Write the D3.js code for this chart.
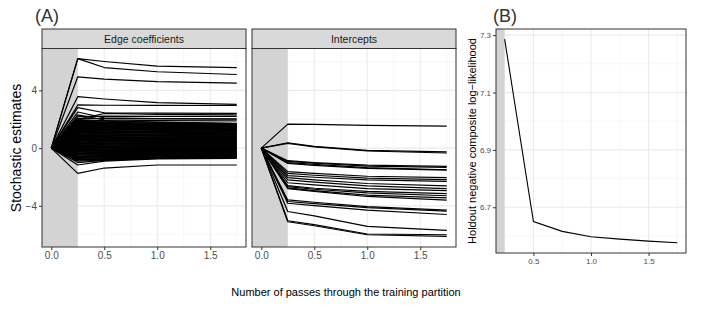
<!DOCTYPE html>
<html>
<head>
<meta charset="utf-8">
<script src="https://cdn.jsdelivr.net/npm/d3@7"></script>
<style>
  body { margin: 0; background: #fff; }
  text { font-family: "Liberation Sans", Arial, sans-serif; }
</style>
</head>
<body>
<div id="chart"></div>
<script>
// Passes at which the stochastic estimates were recorded (panel A)
var passesA = [0, 0.25, 0.5, 1.0, 1.75];
var startValue = 0;

// Edge coefficient traces: values at passes 0.25, 0.5, 1.0, 1.75
var edgeCoefs = [
  [6.2, 6.0, 5.68, 5.57], [6.2, 5.58, 5.29, 5.1], [4.94, 4.78, 4.6, 4.5],
  [3.56, 3.4, 3.15, 3.03], [2.99, 2.97, 2.96, 2.95], [2.8, 2.45, 2.42, 2.41],
  [2.0, 2.4, 2.33, 2.3], [2.18, 2.22, 2.2, 2.2], [2.07, 2.05, 2.02, 2.0],
  [2.5, 2.1, 2.05, 2.02], [2.3, 1.95, 1.9, 1.88], [1.9, 1.5, 1.35, 1.3],
  [1.2, 1.6, 1.55, 1.5], [0.3, 0.6, 0.65, 0.7], [0.9, 0.5, 0.4, 0.38],
  [1.98, 1.9, 1.8, 1.72], [1.93, 1.86, 1.78, 1.7], [1.87, 1.8, 1.72, 1.66],
  [1.82, 1.76, 1.69, 1.63], [1.76, 1.7, 1.62, 1.57], [1.7, 1.66, 1.6, 1.55],
  [1.65, 1.58, 1.52, 1.48], [1.6, 1.55, 1.5, 1.45], [1.54, 1.49, 1.43, 1.39],
  [1.49, 1.44, 1.39, 1.36], [1.43, 1.38, 1.33, 1.3], [1.38, 1.34, 1.3, 1.27],
  [1.32, 1.28, 1.22, 1.19], [1.27, 1.22, 1.18, 1.15], [1.21, 1.17, 1.12, 1.1],
  [1.16, 1.12, 1.08, 1.06], [1.1, 1.07, 1.03, 1.0], [1.05, 1.01, 0.97, 0.95],
  [0.99, 0.96, 0.92, 0.9], [0.94, 0.9, 0.87, 0.85], [0.88, 0.85, 0.82, 0.8],
  [0.83, 0.8, 0.77, 0.75], [0.77, 0.74, 0.71, 0.7], [0.72, 0.7, 0.67, 0.65],
  [0.66, 0.64, 0.61, 0.6], [0.61, 0.58, 0.56, 0.55], [0.55, 0.53, 0.51, 0.5],
  [0.5, 0.48, 0.46, 0.45], [0.44, 0.42, 0.41, 0.4], [0.39, 0.37, 0.36, 0.35],
  [0.33, 0.32, 0.31, 0.3], [0.28, 0.27, 0.26, 0.25], [0.22, 0.21, 0.2, 0.2],
  [0.17, 0.16, 0.15, 0.15], [0.11, 0.1, 0.1, 0.1], [0.06, 0.05, 0.05, 0.05],
  [0.0, 0.0, 0.0, 0.0], [-0.05, -0.05, -0.04, -0.04], [-0.11, -0.1, -0.09, -0.09],
  [-0.16, -0.15, -0.14, -0.13], [-0.22, -0.2, -0.19, -0.18], [-0.27, -0.25, -0.23, -0.22],
  [-0.33, -0.3, -0.28, -0.27], [-0.38, -0.35, -0.33, -0.31], [-0.44, -0.4, -0.37, -0.35],
  [-0.49, -0.45, -0.42, -0.4], [-0.55, -0.5, -0.46, -0.44], [-0.6, -0.55, -0.51, -0.48],
  [-0.66, -0.6, -0.55, -0.52], [-0.71, -0.66, -0.6, -0.56], [-0.77, -0.72, -0.64, -0.59],
  [-0.84, -0.78, -0.68, -0.62], [-0.9, -0.83, -0.72, -0.65],
  [1.95, 1.75, 1.68, 1.65], [1.85, 1.7, 1.64, 1.6], [1.72, 1.62, 1.55, 1.5],
  [1.62, 1.52, 1.46, 1.42], [1.52, 1.41, 1.36, 1.33], [1.41, 1.31, 1.26, 1.23],
  [1.3, 1.2, 1.15, 1.12], [1.19, 1.09, 1.05, 1.02], [1.08, 0.99, 0.95, 0.92],
  [0.97, 0.88, 0.84, 0.82], [0.86, 0.78, 0.74, 0.72], [0.75, 0.67, 0.63, 0.62],
  [0.64, 0.56, 0.53, 0.52], [0.53, 0.46, 0.43, 0.42], [0.42, 0.35, 0.33, 0.32],
  [0.31, 0.24, 0.22, 0.22], [0.2, 0.13, 0.12, 0.12], [0.09, 0.03, 0.02, 0.02],
  [-0.02, -0.08, -0.07, -0.06], [-0.13, -0.18, -0.16, -0.15], [-0.24, -0.28, -0.26, -0.24],
  [-0.35, -0.38, -0.35, -0.33], [-0.46, -0.48, -0.44, -0.42], [-0.57, -0.58, -0.53, -0.5],
  [-0.68, -0.68, -0.62, -0.57], [-0.8, -0.76, -0.67, -0.61],
  [-1.75, -1.38, -1.17, -1.17], [-1.17, -0.9, -0.75, -0.71], [-1.0, -0.85, -0.7, -0.65]
];

// Intercept traces: values at passes 0.25, 0.5, 1.0, 1.75
var intercepts = [
  [1.66, 1.64, 1.58, 1.52], [0.37, 0.12, -0.16, -0.26], [0.33, 0.08, -0.2, -0.34],
  [-0.87, -1.0, -1.18, -1.27], [-0.92, -1.05, -1.25, -1.33], [-1.0, -1.12, -1.35, -1.5],
  [-1.06, -1.2, -1.4, -1.52], [-1.63, -1.75, -1.95, -2.05], [-1.75, -1.88, -2.08, -2.18],
  [-1.9, -2.02, -2.2, -2.3], [-2.05, -2.2, -2.45, -2.62], [-2.2, -2.35, -2.62, -2.8],
  [-2.4, -2.55, -2.8, -2.95], [-2.6, -2.78, -3.0, -3.15], [-2.67, -2.85, -3.1, -3.3],
  [-2.75, -2.95, -3.25, -3.45], [-2.8, -3.0, -3.35, -3.6], [-3.59, -3.75, -4.05, -4.3],
  [-3.7, -3.85, -4.12, -4.36], [-3.82, -3.98, -4.3, -4.6], [-4.39, -4.7, -5.42, -5.7],
  [-5.03, -5.3, -5.95, -6.0], [-5.1, -5.38, -6.0, -6.12]
];

// Panel B: holdout loss per pass
var passesB = [0.25, 0.5, 0.75, 1.0, 1.25, 1.5, 1.75];
var holdoutNll = [7.286, 6.65, 6.616, 6.597, 6.589, 6.582, 6.576];

// Facets, ticks, burn-in boundary
var facetLabels = ["Edge coefficients", "Intercepts"];
var burnInEnd = 0.25;
var xTicksA = [0, 0.5, 1.0, 1.5];
var xMinorA = [0.25, 0.75, 1.25, 1.75];
var yTicksA = [-4, 0, 4];
var yMinorA = [-6, -2, 2, 6];
var xTicksB = [0.5, 1.0, 1.5];
var xMinorB = [0.25, 0.75, 1.25, 1.75];
var yTicksB = [6.7, 6.9, 7.1, 7.3];
var yMinorB = [6.6, 6.8, 7.0, 7.2];

var svgWidth = 706;
var svgHeight = 310;

var svg = d3.select("#chart")
  .append("svg")
  .attr("width", svgWidth)
  .attr("height", svgHeight);

// Layout of the panels
var stripTop = 29;
var stripHeight = 19.5;
var panelTop = stripTop + stripHeight;
var panelBottom = 247;
var panelWidth = 204;
var panelLefts = [42, 252];

var yScaleA = d3.scaleLinear().domain([-6.85, 6.9]).range([panelBottom, panelTop]);
var lineColor = "#000";
var border = "#333333";

function drawGrid(g, x, y, xMaj, xMin, yMaj, yMin, w, h) {
  g.selectAll(".minx").data(xMin).enter().append("line")
    .attr("x1", d => x(d)).attr("x2", d => x(d)).attr("y1", 0).attr("y2", h)
    .attr("stroke", "#f2f2f2").attr("stroke-width", 0.6);
  g.selectAll(".miny").data(yMin).enter().append("line")
    .attr("x1", 0).attr("x2", w).attr("y1", d => y(d)).attr("y2", d => y(d))
    .attr("stroke", "#f2f2f2").attr("stroke-width", 0.6);
  g.selectAll(".majx").data(xMaj).enter().append("line")
    .attr("x1", d => x(d)).attr("x2", d => x(d)).attr("y1", 0).attr("y2", h)
    .attr("stroke", "#ebebeb").attr("stroke-width", 1.1);
  g.selectAll(".majy").data(yMaj).enter().append("line")
    .attr("x1", 0).attr("x2", w).attr("y1", d => y(d)).attr("y2", d => y(d))
    .attr("stroke", "#ebebeb").attr("stroke-width", 1.1);
}

function styleAxis(axisG, size) {
  axisG.select(".domain").remove();
  axisG.selectAll(".tick line").attr("stroke", border);
  axisG.selectAll(".tick text")
    .attr("fill", "#4d4d4d")
    .attr("font-size", size)
    .attr("font-family", "'Liberation Sans', Arial, sans-serif");
}

// Panel A facets
var facetData = [edgeCoefs, intercepts];

facetData.forEach(function(rows, i) {
  var left = panelLefts[i];
  var h = panelBottom - panelTop;
  var x = d3.scaleLinear().domain([-0.0875, 1.8375]).range([0, panelWidth]);
  var y = d3.scaleLinear().domain(yScaleA.domain()).range([h, 0]);

  var g = svg.append("g").attr("transform", `translate(${left}, ${panelTop})`);

  drawGrid(g, x, y, xTicksA, xMinorA, yTicksA, yMinorA, panelWidth, h);

  // burn-in shading
  g.append("rect")
    .attr("x", 0).attr("y", 0)
    .attr("width", x(burnInEnd)).attr("height", h)
    .attr("fill", "#d3d3d3");

  var line = d3.line()
    .x((d, j) => x(passesA[j]))
    .y(d => y(d));

  g.selectAll(".trace")
    .data(rows)
    .enter()
    .append("path")
    .attr("d", d => line([startValue].concat(d)))
    .attr("fill", "none")
    .attr("stroke", lineColor)
    .attr("stroke-width", 1.2)
    .attr("stroke-linejoin", "round");

  g.append("rect")
    .attr("x", 0).attr("y", 0).attr("width", panelWidth).attr("height", h)
    .attr("fill", "none").attr("stroke", border).attr("stroke-width", 1);

  // facet strip
  svg.append("rect")
    .attr("x", left).attr("y", stripTop)
    .attr("width", panelWidth).attr("height", stripHeight)
    .attr("fill", "#d9d9d9").attr("stroke", border).attr("stroke-width", 1);

  svg.append("text")
    .attr("x", left + panelWidth / 2)
    .attr("y", stripTop + stripHeight / 2 + 4)
    .attr("text-anchor", "middle")
    .attr("font-size", "10.5px")
    .attr("fill", "#1a1a1a")
    .text(facetLabels[i]);

  var xAxis = svg.append("g")
    .attr("transform", `translate(${left}, ${panelBottom})`)
    .call(d3.axisBottom(x).tickValues(xTicksA).tickSize(3).tickPadding(2).tickFormat(d3.format(".1f")));
  styleAxis(xAxis, "10px");

  if (i === 0) {
    var yAxis = svg.append("g")
      .attr("transform", `translate(${left}, ${panelTop})`)
      .call(d3.axisLeft(y).tickValues(yTicksA).tickSize(3).tickPadding(2).tickFormat(d3.format("d")));
    styleAxis(yAxis, "10px");
  }
});

// Panel B
var bLeft = 496, bRight = 686, bTop = 29, bBottom = 253;
var bW = bRight - bLeft, bH = bBottom - bTop;
var xB = d3.scaleLinear().domain([0.175, 1.825]).range([0, bW]);
var yB = d3.scaleLinear().domain([6.5405, 7.3215]).range([bH, 0]);

var gB = svg.append("g").attr("transform", `translate(${bLeft}, ${bTop})`);
drawGrid(gB, xB, yB, xTicksB, xMinorB, yTicksB, yMinorB, bW, bH);

gB.append("rect")
  .attr("x", 0).attr("y", 0)
  .attr("width", xB(burnInEnd)).attr("height", bH)
  .attr("fill", "#d3d3d3");

var lineB = d3.line()
  .x((d, j) => xB(passesB[j]))
  .y(d => yB(d));

gB.append("path")
  .datum(holdoutNll)
  .attr("d", lineB)
  .attr("fill", "none")
  .attr("stroke", lineColor)
  .attr("stroke-width", 1.1);

gB.append("rect")
  .attr("x", 0).attr("y", 0).attr("width", bW).attr("height", bH)
  .attr("fill", "none").attr("stroke", border).attr("stroke-width", 1);

var xAxisB = svg.append("g")
  .attr("transform", `translate(${bLeft}, ${bBottom})`)
  .call(d3.axisBottom(xB).tickValues(xTicksB).tickSize(3).tickPadding(2).tickFormat(d3.format(".1f")));
styleAxis(xAxisB, "8px");

var yAxisB = svg.append("g")
  .attr("transform", `translate(${bLeft}, ${bTop})`)
  .call(d3.axisLeft(yB).tickValues(yTicksB).tickSize(3).tickPadding(2).tickFormat(d3.format(".1f")));
styleAxis(yAxisB, "8px");

// Axis titles
svg.append("text")
  .attr("transform", `translate(21, 148) rotate(-90)`)
  .attr("text-anchor", "middle")
  .attr("font-size", "14px")
  .attr("fill", "#000")
  .text("Stochastic estimates");

svg.append("text")
  .attr("transform", `translate(476, 141) rotate(-90)`)
  .attr("text-anchor", "middle")
  .attr("font-size", "11px")
  .attr("fill", "#000")
  .text("Holdout negative composite log\u2212likelihood");

svg.append("text")
  .attr("x", 346)
  .attr("y", 296)
  .attr("text-anchor", "middle")
  .attr("font-size", "11px")
  .attr("fill", "#000")
  .text("Number of passes through the training partition");

// Panel tags
svg.append("text")
  .attr("x", 35).attr("y", 22)
  .attr("font-family", "'DejaVu Sans', sans-serif")
  .attr("font-size", "18px")
  .attr("fill", "#333")
  .text("(A)");

svg.append("text")
  .attr("x", 493).attr("y", 22)
  .attr("font-family", "'DejaVu Sans', sans-serif")
  .attr("font-size", "18px")
  .attr("fill", "#333")
  .text("(B)");
</script>
</body>
</html>
